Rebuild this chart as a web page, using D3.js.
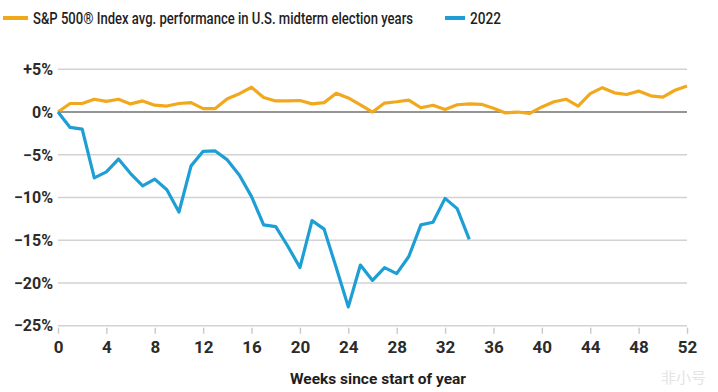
<!DOCTYPE html>
<html>
<head>
    <script src="https://cdnjs.cloudflare.com/ajax/libs/d3/7.8.5/d3.min.js"></script>
    <style>
        body { margin: 0; background: #fff; font-family: 'Roboto', sans-serif; }
    </style>
</head>
<body>
    <svg id="chart" width="718" height="392"></svg>
    <script>
        // weeks since start of year
        var weeks = d3.range(0, 53);
        var avgMidterm = [0, 1.0, 1.0, 1.5, 1.25, 1.5, 0.95, 1.3, 0.8, 0.7, 1.0, 1.1, 0.4, 0.4, 1.55, 2.15, 2.9,
            1.7, 1.3, 1.3, 1.35, 0.95, 1.1, 2.2, 1.65, 0.85, 0, 1.05, 1.2, 1.4, 0.5, 0.8, 0.3, 0.85, 0.95,
            0.9, 0.45, -0.1, 0, -0.15, 0.6, 1.2, 1.5, 0.7, 2.15, 2.85, 2.25, 2.05, 2.45, 1.9, 1.75, 2.55, 3.05];
        var year2022 = [0, -1.8, -2.0, -7.7, -7.0, -5.5, -7.2, -8.65, -7.85, -9.1, -11.7, -6.3, -4.6, -4.55, -5.6, -7.4, -9.9,
            -13.2, -13.4, -15.7, -18.2, -12.7, -13.7, -18.2, -22.8, -17.9, -19.7, -18.2, -18.9, -16.9, -13.2, -12.9, -10.1, -11.3, -14.9];
        var xTicks = [0, 4, 8, 12, 16, 20, 24, 28, 32, 36, 40, 44, 48, 52];
        var yTicks = [5, 0, -5, -10, -15, -20, -25];
        var legendLabels = ["S&P 500\u00AE Index avg. performance in U.S. midterm election years", "2022"];
        var colors = ["#f2a81d", "#1d9fd6"];

        var svg = d3.select("#chart");
        var x = d3.scaleLinear().domain([0, 52]).range([58, 687]);
        var y = d3.scaleLinear().domain([5, -25]).range([69.3, 325.7]);

        // gridlines
        svg.append("g")
            .selectAll("line")
            .data(yTicks)
            .enter().append("line")
            .attr("x1", x(0)).attr("x2", x(52))
            .attr("y1", function (d) { return y(d); })
            .attr("y2", function (d) { return y(d); })
            .attr("stroke", function (d) { return d === 0 ? "#707070" : "#d2d2d2"; })
            .attr("stroke-width", function (d) { return d === 0 ? 1.6 : 1.4; });

        // y labels
        svg.append("g")
            .selectAll("text")
            .data(yTicks)
            .enter().append("text")
            .attr("x", 53)
            .attr("y", function (d) { return y(d); })
            .attr("dy", "0.36em")
            .attr("text-anchor", "end")
            .attr("font-size", 16)
            .attr("font-weight", 700)
            .attr("fill", "#2b2b2b")
            .text(function (d) { return d > 0 ? "+" + d + "%" : d < 0 ? "\u2212" + Math.abs(d) + "%" : "0%"; });

        // x axis
        var xAxis = d3.axisBottom(x).tickValues(xTicks).tickSize(6).tickPadding(7).tickSizeOuter(0);
        var gx = svg.append("g")
            .attr("transform", "translate(0," + (y(-25) + 2) + ")")
            .call(xAxis);
        gx.select(".domain").remove();
        gx.selectAll("line").attr("stroke", "#c8c8c8").attr("stroke-width", 1.4);
        gx.selectAll("text")
            .attr("font-family", "Roboto")
            .attr("font-size", 17)
            .attr("font-weight", 700)
            .attr("fill", "#2b2b2b");

        svg.append("text")
            .attr("x", 378)
            .attr("y", 384)
            .attr("text-anchor", "middle")
            .attr("font-size", 15.5)
            .attr("font-weight", 700)
            .attr("fill", "#1e1e1e")
            .text("Weeks since start of year");

        // lines
        var line = d3.line()
            .x(function (d, i) { return x(weeks[i]); })
            .y(function (d) { return y(d); });

        svg.append("path")
            .datum(avgMidterm)
            .attr("fill", "none")
            .attr("stroke", colors[0])
            .attr("stroke-width", 3.2)
            .attr("stroke-linejoin", "round")
            .attr("d", line);

        svg.append("path")
            .datum(year2022)
            .attr("fill", "none")
            .attr("stroke", colors[1])
            .attr("stroke-width", 3.2)
            .attr("stroke-linejoin", "round")
            .attr("d", line);

        // legend
        var legendX = [3, 445];
        var leg = svg.append("g");
        leg.selectAll("line")
            .data(legendLabels)
            .enter().append("line")
            .attr("x1", function (d, i) { return legendX[i]; })
            .attr("x2", function (d, i) { return legendX[i] + (i === 0 ? 25 : 20); })
            .attr("y1", 18).attr("y2", 18)
            .attr("stroke", function (d, i) { return colors[i]; })
            .attr("stroke-width", 4);
        leg.selectAll("text")
            .data(legendLabels)
            .enter().append("text")
            .attr("x", function (d, i) { return legendX[i] + (i === 0 ? 30 : 25); })
            .attr("y", 18)
            .attr("dy", "0.36em")
            .attr("font-size", 14.5)
            .attr("font-weight", 500)
            .attr("fill", "#1e1e1e")
            .attr("textLength", function (d, i) { return i === 0 ? 380 : 31; })
            .attr("lengthAdjust", "spacingAndGlyphs")
            .attr("transform", "translate(0,18) scale(1,1.12) translate(0,-18)")
            .text(function (d) { return d; });

        // watermark
        svg.append("text")
            .attr("x", 706)
            .attr("y", 383)
            .attr("text-anchor", "end")
            .attr("font-family", "Noto Sans CJK SC")
            .attr("font-size", 15)
            .attr("fill", "#e4e4e4")
            .text("\u975E\u5C0F\u53F7");
    </script>
</body>
</html>
